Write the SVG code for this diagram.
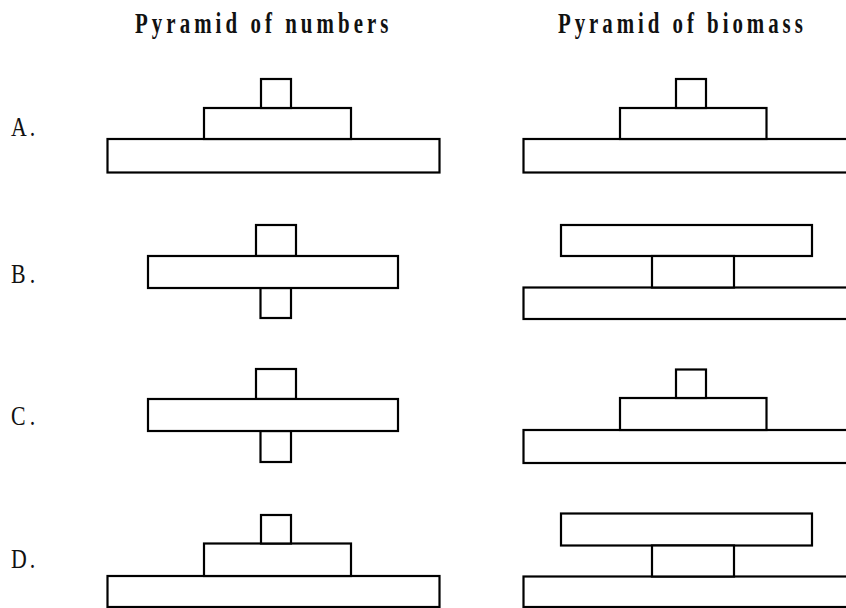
<svg xmlns="http://www.w3.org/2000/svg" width="846" height="608" viewBox="0 0 846 608">
<style>
.t{font-family:"Liberation Serif","Times New Roman",serif;font-weight:bold;font-size:29px;fill:#111}
.l{font-family:"Liberation Serif","Times New Roman",serif;font-size:28px;fill:#111}
rect{fill:#fff;stroke:#000;stroke-width:2.2}
</style>
<rect x="0" y="0" width="846" height="608" style="stroke:none;fill:#fff"/>
<g id="titles">
<text class="t" transform="translate(135,33) scale(0.72,1)" x="0" y="0" textLength="352" lengthAdjust="spacing">Pyramid of numbers</text>
<text class="t" transform="translate(558,33) scale(0.72,1)" x="0" y="0" textLength="340" lengthAdjust="spacing">Pyramid of biomass</text>
</g>
<g id="labels">
<text class="l" transform="translate(11,136) scale(0.78,1)" textLength="31" lengthAdjust="spacing">A.</text>
<text class="l" transform="translate(11,283) scale(0.78,1)" textLength="31" lengthAdjust="spacing">B.</text>
<text class="l" transform="translate(11,425) scale(0.78,1)" textLength="31" lengthAdjust="spacing">C.</text>
<text class="l" transform="translate(11,568) scale(0.78,1)" textLength="31" lengthAdjust="spacing">D.</text>
</g>
<g id="A-numbers">
<rect x="107.5" y="139" width="332" height="33.5"/>
<rect x="204" y="108" width="147" height="31"/>
<rect x="261" y="79" width="30" height="29"/>
</g>
<g id="A-biomass">
<rect x="523.5" y="139" width="340" height="33.5"/>
<rect x="620" y="108" width="146.5" height="31"/>
<rect x="676" y="79" width="30" height="29"/>
</g>
<g id="B-numbers">
<rect x="256" y="225" width="40" height="31"/>
<rect x="260.5" y="288" width="30.5" height="30"/>
<rect x="148" y="256" width="250" height="32"/>
</g>
<g id="B-biomass">
<rect x="561" y="225" width="251" height="31"/>
<rect x="523.5" y="287.5" width="340" height="31.5"/>
<rect x="652" y="256" width="82" height="31.5"/>
</g>
<g id="C-numbers">
<rect x="256" y="369" width="40" height="30"/>
<rect x="260.5" y="431" width="30.5" height="31"/>
<rect x="148" y="399" width="250" height="32"/>
</g>
<g id="C-biomass">
<rect x="523.5" y="430" width="340" height="33"/>
<rect x="620" y="398" width="146.5" height="32"/>
<rect x="676" y="369.5" width="30" height="28.5"/>
</g>
<g id="D-numbers">
<rect x="107.5" y="576" width="332" height="31"/>
<rect x="204" y="543.5" width="147" height="32.5"/>
<rect x="261" y="515" width="30" height="28.5"/>
</g>
<g id="D-biomass">
<rect x="561" y="513.5" width="251" height="32"/>
<rect x="523.5" y="576.5" width="340" height="30.5"/>
<rect x="652" y="545.5" width="82" height="31"/>
</g>
</svg>
